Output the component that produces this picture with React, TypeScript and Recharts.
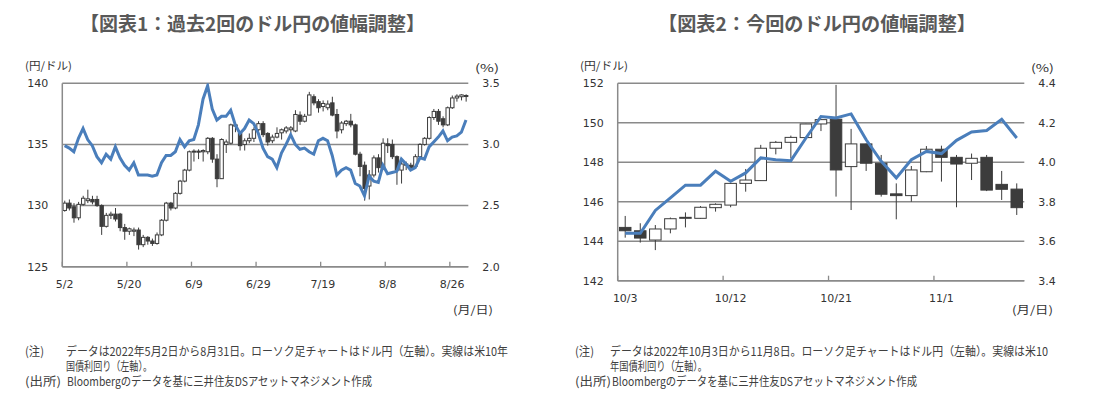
import React from 'react';
import { ComposedChart, Bar, Line, XAxis, YAxis, CartesianGrid } from 'recharts';

// ---------- Chart 1: 2022/5/2 - 8/31 ----------
const dates1 = [
  '5/2','5/3','5/4','5/5','5/6','5/9','5/10','5/11','5/12','5/13','5/16','5/17','5/18','5/19','5/20','5/23','5/24','5/25','5/26','5/27','5/30','5/31',
  '6/1','6/2','6/3','6/6','6/7','6/8','6/9','6/10','6/13','6/14','6/15','6/16','6/17','6/20','6/21','6/22','6/23','6/24','6/27','6/28','6/29','6/30',
  '7/1','7/4','7/5','7/6','7/7','7/8','7/11','7/12','7/13','7/14','7/15','7/18','7/19','7/20','7/21','7/22','7/25','7/26','7/27','7/28','7/29',
  '8/1','8/2','8/3','8/4','8/5','8/8','8/9','8/10','8/11','8/12','8/15','8/16','8/17','8/18','8/19','8/22','8/23','8/24','8/25','8/26','8/29','8/30','8/31',
];
const open1 = [
  129.6,130.2,129.9,129.0,130.1,130.4,130.5,130.5,130.0,128.3,
  129.2,129.3,129.3,128.2,127.9,127.9,128.0,126.8,127.4,127.1,
  126.9,127.6,128.8,130.2,129.8,131.0,132.0,132.9,134.4,134.45,
  134.4,134.4,135.5,133.8,132.2,135.0,135.1,136.6,135.9,135.0,
  135.3,135.5,136.2,136.7,135.9,135.3,135.6,135.95,136.1,136.2,
  136.1,137.4,136.9,137.4,138.9,138.5,138.1,138.0,138.4,137.45,
  136.2,136.7,136.9,136.6,134.2,133.3,131.6,132.5,133.9,133.1,
  135.05,135.0,134.0,132.9,133.3,133.3,133.2,134.0,135.0,135.5,
  137.2,137.7,137.1,136.6,138.0,138.8,138.9,139.0,
];
const high1 = [
  130.4,130.5,130.2,130.3,130.8,131.3,130.8,130.8,130.1,129.4,
  129.5,129.8,129.4,128.5,128.2,128.2,128.2,127.6,127.5,127.3,
  127.8,128.9,130.3,130.3,131.1,132.1,133.0,134.5,134.6,134.6,
  134.6,135.6,135.6,134.2,135.5,135.4,136.7,136.7,136.0,135.5,
  135.9,136.4,136.9,136.9,136.0,135.8,136.4,136.3,136.5,136.5,
  137.8,137.7,137.5,139.3,139.1,138.7,138.6,138.6,138.9,137.9,
  136.9,137.0,137.5,136.7,134.4,133.6,132.9,134.1,134.2,135.5,
  135.5,135.4,134.1,133.6,133.6,133.5,134.2,135.1,135.6,137.3,
  137.9,137.9,137.3,138.1,139.0,139.1,139.1,139.1,
];
const low1 = [
  129.5,129.6,128.6,128.8,130.0,130.2,130.1,129.9,127.6,128.2,
  128.9,128.7,127.9,127.2,127.6,127.5,126.4,126.6,126.8,126.7,
  126.8,127.5,128.7,129.6,129.7,130.9,131.9,132.8,133.6,133.8,
  133.6,134.2,133.5,131.5,132.2,134.3,135.0,136.0,134.5,134.5,
  135.1,135.2,136.0,135.6,134.9,135.1,135.5,135.4,135.9,135.9,
  136.0,136.6,136.8,137.4,138.2,137.6,137.7,137.8,137.3,135.5,
  135.9,136.5,136.4,134.1,132.4,130.4,130.5,132.3,132.7,132.9,
  134.3,133.8,131.7,131.8,132.9,132.9,133.0,133.9,134.9,135.4,
  137.0,136.6,136.4,136.5,137.9,138.5,138.6,138.5,
];
const close1 = [
  130.2,129.8,129.0,130.1,130.6,130.55,130.3,130.0,128.3,129.2,
  129.3,128.9,128.2,127.9,128.1,128.0,126.8,127.4,127.1,126.9,
  127.6,128.8,130.2,129.8,131.0,132.0,132.9,134.4,134.45,134.4,
  134.5,135.5,133.8,132.2,135.4,135.2,136.6,136.5,134.9,135.3,
  135.5,136.2,136.7,135.8,135.2,135.6,135.9,136.2,136.35,136.35,
  137.45,136.9,137.3,139.05,138.4,138.0,138.35,138.3,137.4,136.1,
  136.75,136.9,136.6,134.2,133.2,131.4,132.5,133.9,133.1,135.1,
  134.9,134.0,132.9,133.4,133.4,133.1,134.0,135.0,135.5,137.2,
  137.7,136.9,136.6,138.0,138.8,138.95,139.05,138.95,
];
const rate1 = [
  2.99,2.97,2.94,3.05,3.13,3.04,2.99,2.90,2.85,2.92,
  2.88,2.98,2.89,2.83,2.79,2.85,2.75,2.75,2.75,2.74,
  2.75,2.85,2.91,2.91,2.94,3.04,2.98,3.03,3.04,3.16,
  3.37,3.48,3.29,3.20,3.23,3.23,3.28,3.16,3.09,3.13,
  3.20,3.17,3.09,2.97,2.90,2.88,2.81,2.93,3.00,3.08,
  3.00,2.96,2.97,2.94,2.92,3.03,3.05,3.03,2.91,2.75,
  2.79,2.81,2.79,2.68,2.66,2.58,2.74,2.70,2.69,2.83,
  2.76,2.77,2.78,2.88,2.84,2.79,2.81,2.89,2.88,2.98,
  3.02,3.06,3.11,3.03,3.06,3.07,3.10,3.20,
];
const leftTicks1 = [125, 130, 135, 140];
const rightTicks1 = [2.0, 2.5, 3.0, 3.5];

// ---------- Chart 2: 2022/10/3 - 11/8 ----------
const dates2 = [
  '10/3','10/4','10/5','10/6','10/7','10/10','10/11','10/12','10/13','10/14','10/17','10/18','10/19','10/20','10/21',
  '10/24','10/25','10/26','10/27','10/28','10/31','11/1','11/2','11/3','11/4','11/7','11/8',
];
const open2 = [144.70,144.53,144.06,144.62,145.16,145.16,145.70,145.83,146.93,147.07,148.71,149.01,149.25,149.94,150.18,147.78,148.93,147.95,146.40,146.31,147.52,148.66,148.25,147.95,148.25,146.88,146.64];
const high2 = [145.28,144.91,144.82,145.20,145.46,145.78,145.92,146.95,147.66,148.88,149.08,149.35,149.95,150.18,151.92,149.69,148.95,148.37,146.93,147.81,148.82,148.84,148.37,148.44,148.37,147.56,146.93];
const low2 = [144.18,143.93,143.55,144.40,144.70,145.14,145.50,145.72,146.51,147.05,148.40,148.20,149.22,149.58,146.26,145.58,147.56,146.26,145.11,146.00,147.50,147.02,145.72,147.10,146.54,146.09,145.33];
const close2 = [144.53,144.16,144.62,145.14,145.21,145.72,145.87,146.93,147.10,148.71,149.01,149.26,149.94,150.16,147.61,148.93,147.95,146.38,146.31,147.61,148.66,148.25,147.91,148.20,146.59,146.63,145.70];
const rate2 = [3.64,3.64,3.756,3.82,3.884,3.884,3.955,3.904,3.946,4.022,4.013,4.008,4.123,4.232,4.224,4.245,4.114,4.005,3.921,4.013,4.055,4.044,4.111,4.153,4.161,4.218,4.123];
const leftTicks2 = [142, 144, 146, 148, 150, 152];
const rightTicks2 = [3.4, 3.6, 3.8, 4.0, 4.2, 4.4];

const build = (d: string[], o: number[], h: number[], l: number[], c: number[], r: number[]) =>
  d.map((x, i) => ({ d: x, open: o[i], high: h[i], low: l[i], close: c[i], rate: r[i], range: [l[i], h[i]] }));

const data1 = build(dates1, open1, high1, low1, close1, rate1);
const data2 = build(dates2, open2, high2, low2, close2, rate2);

const GRID = '#8a8a8a';
const BLUE = '#4a7ebb';
const DARK = '#3c3c3c';
const NUMFONT = 'DejaVu Sans, Verdana, sans-serif';
const JPFONT = '"Noto Sans CJK JP", sans-serif';

const makeCandle = (bodyW: number) => (props: any) => {
  const { x, y, width, height, payload } = props;
  if (x == null || y == null || !payload) return <g />;
  const top = Math.min(y, y + height);
  const h = Math.abs(height);
  const span = payload.high - payload.low;
  const ppu = span > 0 ? h / span : 0;
  const yO = top + (payload.high - payload.open) * ppu;
  const yC = top + (payload.high - payload.close) * ppu;
  const cx = x + width / 2;
  const up = payload.close >= payload.open;
  const bt = Math.min(yO, yC);
  const bh = Math.max(Math.abs(yO - yC), 1);
  return (
    <g>
      <line x1={cx} x2={cx} y1={top} y2={top + h} stroke={DARK} strokeWidth={1} />
      <rect x={cx - bodyW / 2} y={bt} width={bodyW} height={bh} fill={up ? '#ffffff' : DARK} stroke={DARK} strokeWidth={1} />
    </g>
  );
};

const makeXTick = (band: number) => (props: any) => {
  const { x, y, payload } = props;
  return (
    <g>
      <line x1={x - band / 2} x2={x - band / 2} y1={y} y2={y - 5} stroke={GRID} strokeWidth={1.3} />
      <text x={x} y={y + 17.5} textAnchor="middle" dominantBaseline="central" fontSize={11} fontFamily={NUMFONT} fill="#333">
        {payload.value}
      </text>
    </g>
  );
};

type PanelProps = {
  data: any[];
  left: number;
  width: number;
  height: number;
  margin: { top: number; right: number; bottom: number; left: number };
  leftW: number;
  rightW: number;
  leftDomain: [number, number];
  rightDomain: [number, number];
  leftTicks: number[];
  rightTicks: number[];
  interval: number;
  band: number;
  bodyW: number;
};

const Panel = (p: PanelProps) => (
  <div style={{ position: 'absolute', left: p.left, top: 0 }}>
    <ComposedChart width={p.width} height={p.height} data={p.data} margin={p.margin}>
      <CartesianGrid yAxisId="left" vertical={false} stroke={GRID} strokeWidth={1.5} />
      <XAxis
        dataKey="d"
        type="category"
        interval={p.interval}
        height={30}
        tickSize={0}
        tickMargin={0}
        tickLine={false}
        axisLine={{ stroke: GRID, strokeWidth: 1.5 }}
        tick={makeXTick(p.band)}
      />
      <YAxis
        yAxisId="left"
        orientation="left"
        width={p.leftW}
        domain={p.leftDomain}
        ticks={p.leftTicks}
        allowDataOverflow
        tickLine={false}
        tickSize={0}
        tickMargin={14}
        axisLine={{ stroke: GRID, strokeWidth: 1.5 }}
        tick={{ fontSize: 11, fill: '#333', fontFamily: NUMFONT }}
      />
      <YAxis
        yAxisId="right"
        orientation="right"
        width={p.rightW}
        domain={p.rightDomain}
        ticks={p.rightTicks}
        allowDataOverflow
        tickLine={false}
        tickSize={0}
        tickMargin={14}
        axisLine={false}
        tickFormatter={(v: number) => v.toFixed(1)}
        tick={{ fontSize: 11, fill: '#333', fontFamily: NUMFONT }}
      />
      <Bar yAxisId="left" dataKey="range" isAnimationActive={false} shape={makeCandle(p.bodyW)} />
      <Line yAxisId="right" dataKey="rate" type="linear" stroke={BLUE} strokeWidth={3} dot={false} isAnimationActive={false} />
    </ComposedChart>
  </div>
);

const T = (props: { x: number; y: number; w: number; size: number; children: string; weight?: number; fill?: string; font?: string }) => (
  <text
    x={props.x}
    y={props.y}
    dominantBaseline="central"
    fontSize={props.size}
    fontWeight={props.weight || 400}
    fill={props.fill || '#404040'}
    fontFamily={props.font || JPFONT}
    textLength={props.w}
    lengthAdjust="spacingAndGlyphs"
  >
    {props.children}
  </text>
);

export default function App() {
  return (
    <div style={{ position: 'absolute', left: 0, top: 0, width: 1099, height: 397, background: '#fff', overflow: 'hidden' }}>
      <Panel
        data={data1}
        left={0}
        width={520}
        height={300}
        margin={{ top: 83.3, right: 6.7, bottom: 3.3, left: 0 }}
        leftW={62.3}
        rightW={45}
        leftDomain={[125, 140]}
        rightDomain={[2.0, 3.5]}
        leftTicks={leftTicks1}
        rightTicks={rightTicks1}
        interval={13}
        band={406 / 88}
        bodyW={3.4}
      />
      <Panel
        data={data2}
        left={550}
        width={549}
        height={330}
        margin={{ top: 83.3, right: 14.7, bottom: 19.3, left: 0 }}
        leftW={67.7}
        rightW={60}
        leftDomain={[142, 152]}
        rightDomain={[3.4, 4.4]}
        leftTicks={leftTicks2}
        rightTicks={rightTicks2}
        interval={6}
        band={406.6 / 27}
        bodyW={11.5}
      />
      <svg width={1099} height={397} style={{ position: 'absolute', left: 0, top: 0, pointerEvents: 'none' }}>
        <T x={80} y={22.5} w={345} size={19} weight={700} fill="#595959">【図表1：過去2回のドル円の値幅調整】</T>
        <T x={658} y={22.5} w={318} size={19} weight={700} fill="#595959">【図表2：今回のドル円の値幅調整】</T>

        <T x={25} y={65} w={47} size={11} fill="#333">(円/ドル)</T>
        <T x={475} y={67} w={24} size={11} fill="#333">(%)</T>
        <T x={453} y={309} w={40} size={11} fill="#333">(月/日)</T>

        <T x={580} y={65} w={48} size={11} fill="#333">(円/ドル)</T>
        <T x={1031} y={67} w={23} size={11} fill="#333">(%)</T>
        <T x={1012} y={309} w={41} size={11} fill="#333">(月/日)</T>

        <T x={25} y={350} w={19} size={12}>(注)</T>
        <T x={66} y={350} w={442} size={12}>データは2022年5月2日から8月31日。ローソク足チャートはドル円（左軸）。実線は米10年</T>
        <T x={66} y={365} w={86} size={12}>国債利回り（左軸）。</T>
        <T x={25} y={380} w={36} size={12}>(出所)</T>
        <T x={67} y={380} w={305} size={12}>Bloombergのデータを基に三井住友DSアセットマネジメント作成</T>

        <T x={575} y={350} w={19} size={12}>(注)</T>
        <T x={610} y={350} w={438} size={12}>データは2022年10月3日から11月8日。ローソク足チャートはドル円（左軸）。実線は米10</T>
        <T x={610} y={365} w={97} size={12}>年国債利回り（左軸）。</T>
        <T x={575} y={380} w={36} size={12}>(出所)</T>
        <T x={612} y={380} w={305} size={12}>Bloombergのデータを基に三井住友DSアセットマネジメント作成</T>
      </svg>
    </div>
  );
}
